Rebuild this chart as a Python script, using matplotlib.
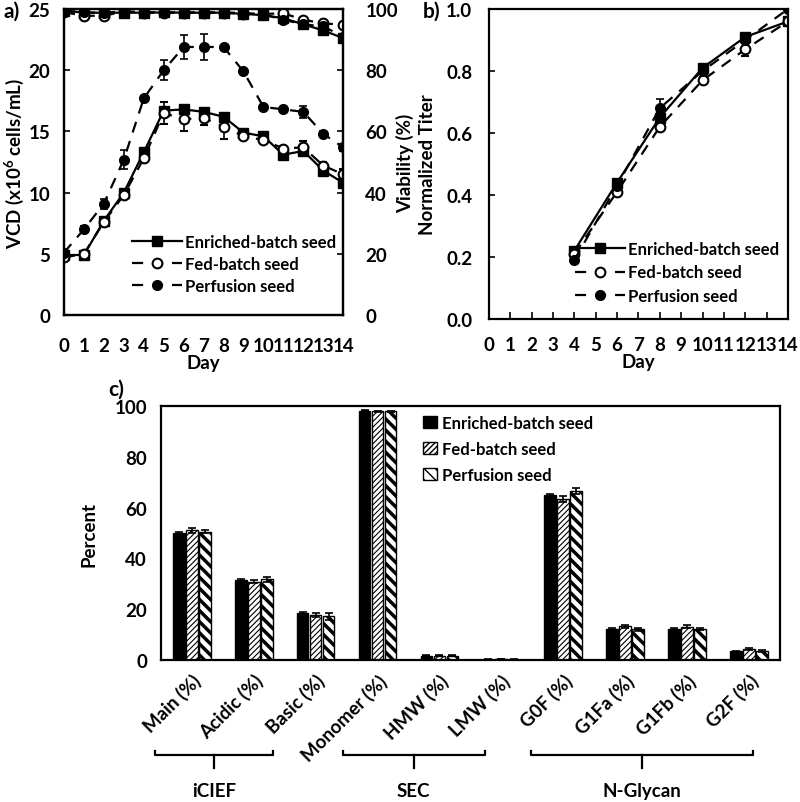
import matplotlib
matplotlib.use("Agg")
import matplotlib.pyplot as plt
import numpy as np
from matplotlib.patches import Patch
from matplotlib.lines import Line2D

plt.rcParams['font.family'] = ['Lato', 'DejaVu Sans']
plt.rcParams['font.weight'] = 'bold'
plt.rcParams['axes.labelweight'] = 'bold'
plt.rcParams['mathtext.fontset'] = 'custom'
plt.rcParams['mathtext.rm'] = 'Lato:bold'
plt.rcParams['mathtext.it'] = 'Lato:bold'
plt.rcParams['mathtext.bf'] = 'Lato:bold'

# ---------------- data ----------------
series = ["Enriched-batch seed", "Fed-batch seed", "Perfusion seed"]
days = list(range(15))

vcd_enriched = [4.9, 4.9, 7.7, 10.0, 13.3, 16.7, 16.8, 16.6, 16.2, 14.9, 14.6, 13.1, 13.4, 11.8, 10.8]
vcd_fed = [4.7, 5.0, 7.6, 9.8, 12.8, 16.5, 16.0, 16.1, 15.4, 14.6, 14.3, 13.6, 13.7, 12.2, 11.5]
vcd_perf = [5.1, 7.0, 9.1, 12.7, 17.7, 20.0, 21.9, 21.9, 21.9, 19.9, 17.0, 16.8, 16.6, 14.8, 13.7]
vcd_enriched_err = [0.1, 0.1, 0.2, 0.2, 0.2, 0.3, 0.3, 0.3, 0.3, 0.2, 0.2, 0.2, 0.2, 0.2, 0.2]
vcd_fed_err = [0.1, 0.1, 0.2, 0.2, 0.3, 0.9, 1.0, 0.6, 1.0, 0.2, 0.2, 0.2, 0.5, 0.3, 0.4]
vcd_perf_err = [0.1, 0.3, 0.4, 0.8, 0.2, 0.8, 1.0, 1.1, 0.1, 0.1, 0.1, 0.2, 0.5, 0.2, 0.3]

via_enriched = [99.5, 98.8, 98.8, 98.8, 98.8, 98.9, 98.8, 98.8, 98.8, 98.4, 98.0, 97.0, 95.0, 93.0, 90.5]
via_fed = [99.0, 97.8, 97.8, 99.2, 98.8, 98.8, 98.8, 98.8, 98.8, 98.5, 98.4, 98.6, 96.5, 95.3, 94.9]
via_perf = [99.5, 98.9, 98.8, 99.2, 99.0, 98.9, 98.9, 98.9, 98.9, 98.7, 98.2, 96.5, 95.0, 94.3, 91.0]

titer_days = [4, 6, 8, 10, 12, 14]
titer_enriched = [0.22, 0.44, 0.65, 0.81, 0.91, 0.96]
titer_fed = [0.21, 0.41, 0.62, 0.77, 0.87, 0.96]
titer_perf = [0.19, 0.43, 0.68, 0.80, 0.90, 1.00]
titer_enriched_err = [0.01, 0.01, 0.01, 0.01, 0.01, 0.01]
titer_fed_err = [0.01, 0.01, 0.01, 0.01, 0.02, 0.01]
titer_perf_err = [0.01, 0.02, 0.03, 0.01, 0.01, 0.01]

categories = ["Main (%)", "Acidic (%)", "Basic (%)", "Monomer (%)", "HMW (%)",
              "LMW (%)", "G0F (%)", "G1Fa (%)", "G1Fb (%)", "G2F (%)"]
bar_enriched = [50.0, 31.5, 18.5, 98.2, 1.6, 0.2, 65.0, 12.2, 12.3, 3.5]
bar_fed = [51.0, 30.8, 17.8, 97.9, 1.6, 0.3, 63.5, 13.3, 13.2, 4.2]
bar_perf = [50.5, 31.8, 17.2, 97.9, 1.7, 0.2, 66.5, 12.2, 12.3, 3.6]
bar_enriched_err = [0.4, 0.3, 0.6, 0.2, 0.2, 0.05, 0.3, 0.3, 0.3, 0.2]
bar_fed_err = [1.0, 0.6, 0.7, 0.2, 0.2, 0.05, 1.2, 0.6, 0.5, 0.4]
bar_perf_err = [0.6, 1.0, 1.5, 0.2, 0.2, 0.05, 1.3, 0.6, 0.5, 0.4]

groups = ["iCIEF", "SEC", "N-Glycan"]
group_spans = [(-0.6, 1.32), (2.44, 4.73), (5.48, 9.06)]

# ---------------- figure ----------------
fig = plt.figure(figsize=(8.0, 8.03), dpi=100)

TICK_FS = 13.5
LEG_FS = 12
LAB_FS = 13.5
SPINE_LW = 1.6

def style_spines(ax):
    for s in ax.spines.values():
        s.set_linewidth(SPINE_LW)

# Panel a
axa = fig.add_axes([0.08, 0.6065, 0.349, 0.381])
axv = axa.twinx()
line_kw = dict(color='black', lw=1.6, markersize=7, capsize=3, elinewidth=1.2, capthick=1.2)

axa.errorbar(days, vcd_enriched, yerr=vcd_enriched_err, marker='s', ls='-', mfc='black', mec='black', **line_kw)
axa.errorbar(days, vcd_fed, yerr=vcd_fed_err, marker='o', ls=(0, (5, 4)), mfc='white', mec='black', mew=1.5, **line_kw)
axa.errorbar(days, vcd_perf, yerr=vcd_perf_err, marker='o', ls=(0, (5, 4)), mfc='black', mec='black', **line_kw)

axv.plot(days, via_enriched, marker='s', ls='-', color='black', lw=1.6, markersize=7)
axv.plot(days, via_fed, marker='o', ls=(0, (5, 4)), color='black', mfc='white', mew=1.5, lw=1.6, markersize=7)
axv.plot(days, via_perf, marker='o', ls=(0, (5, 4)), color='black', mfc='black', lw=1.6, markersize=7)

axa.set_xlim(0, 14)
axa.set_ylim(0, 25)
axv.set_ylim(0, 100)
axa.set_xticks(days)
axa.set_xticklabels([str(d) for d in days])
axa.set_yticks([0, 5, 10, 15, 20, 25])
axv.set_yticks([0, 20, 40, 60, 80, 100])
axa.tick_params(axis='x', length=0, labelsize=TICK_FS, pad=16)
axa.tick_params(axis='y', direction='in', length=4, width=1.2, labelsize=TICK_FS, pad=10)
axv.tick_params(axis='y', direction='in', length=4, width=1.2, labelsize=TICK_FS, pad=16)
axa.set_xlabel("Day", fontsize=LAB_FS, labelpad=0)
axa.set_ylabel(r"VCD (x10$^{6}$ cells/mL)", fontsize=LAB_FS, labelpad=2)
axv.set_ylabel("Viability (%)", fontsize=LAB_FS)
axv.yaxis.set_label_coords(1.188, 0.5)
style_spines(axa)
style_spines(axv)

handles_a = [
    Line2D([], [], color='black', lw=1.6, marker='s', markersize=7, ls='-'),
    Line2D([], [], color='black', lw=1.6, marker='o', mfc='white', mew=1.5, markersize=7, ls=(0, (5, 4))),
    Line2D([], [], color='black', lw=1.6, marker='o', markersize=7, ls=(0, (5, 4))),
]
axa.legend(handles_a, series, loc='lower right', bbox_to_anchor=(1.03, 0.02), frameon=False,
           handlelength=3.0, handletextpad=0.2, labelspacing=0.35,
           prop={'weight': 'bold', 'size': LEG_FS})
fig.text(0.005, 0.985, "a)", fontsize=15, fontweight='bold', va='center', ha='left')

# Panel b
axb = fig.add_axes([0.611, 0.6015, 0.374, 0.386])
axb.errorbar(titer_days, titer_enriched, yerr=titer_enriched_err, marker='s', ls='-', mfc='black', mec='black', **line_kw)
axb.errorbar(titer_days, titer_fed, yerr=titer_fed_err, marker='o', ls=(0, (5, 4)), mfc='white', mec='black', mew=1.5, **line_kw)
axb.errorbar(titer_days, titer_perf, yerr=titer_perf_err, marker='o', ls=(0, (5, 4)), mfc='black', mec='black', **line_kw)
axb.set_xlim(0, 14)
axb.set_ylim(0, 1.0)
axb.set_xticks(days)
axb.set_xticklabels([str(d) for d in days])
axb.set_yticks([0.0, 0.2, 0.4, 0.6, 0.8, 1.0])
axb.set_yticklabels(["0.0", "0.2", "0.4", "0.6", "0.8", "1.0"])
axb.tick_params(axis='x', direction='in', length=5, width=1.2, labelsize=TICK_FS, pad=12)
axb.tick_params(axis='y', direction='in', length=4, width=1.2, labelsize=TICK_FS, pad=12)
axb.set_xlabel("Day", fontsize=LAB_FS, labelpad=0)
axb.set_ylabel("Normalized Titer", fontsize=LAB_FS)
axb.yaxis.set_label_coords(-0.175, 0.5)
style_spines(axb)
axb.legend(handles_a, series, loc='lower right', bbox_to_anchor=(1.02, 0.0), frameon=False,
           handlelength=3.0, handletextpad=0.2, labelspacing=0.45,
           prop={'weight': 'bold', 'size': LEG_FS})
fig.text(0.528, 0.985, "b)", fontsize=15, fontweight='bold', va='center', ha='left')

# Panel c
axc = fig.add_axes([0.201, 0.1768, 0.774, 0.3163])
x = np.arange(len(categories))
w = 0.19
off = 0.21
err_kw = dict(ecolor='black', elinewidth=1.2, capsize=3, capthick=1.2)
b1 = axc.bar(x - off, bar_enriched, w, yerr=bar_enriched_err, color='black', edgecolor='black', lw=1, error_kw=err_kw)
b2 = axc.bar(x, bar_fed, w, yerr=bar_fed_err, color='white', edgecolor='black', lw=1, hatch='//////', error_kw=err_kw)
b3 = axc.bar(x + off, bar_perf, w, yerr=bar_perf_err, color='white', edgecolor='black', lw=1, hatch='\\\\\\', error_kw=err_kw)
for p in b3:
    try:
        p.set_hatch_linewidth(2.5)
    except Exception:
        pass
for p in b2:
    try:
        p.set_hatch_linewidth(0.8)
    except Exception:
        pass
axc.set_xlim(-0.5, len(categories) - 0.5)
axc.set_ylim(0, 100)
axc.set_yticks([0, 20, 40, 60, 80, 100])
axc.set_xticks(x)
axc.set_xticklabels(categories, rotation=45, ha='right', rotation_mode='anchor')
axc.tick_params(axis='x', length=0, labelsize=TICK_FS, pad=8)
axc.tick_params(axis='y', length=0, labelsize=TICK_FS, pad=10)
axc.set_ylabel("Percent", fontsize=LAB_FS, labelpad=12)
style_spines(axc)

leg_handles = [
    Patch(facecolor='black', edgecolor='black'),
    Patch(facecolor='white', edgecolor='black', hatch='//////'),
    Patch(facecolor='white', edgecolor='black', hatch='\\\\\\'),
]
axc.legend(leg_handles, series, loc='upper left', bbox_to_anchor=(0.4, 1.025), frameon=False,
           handlelength=0.8, handleheight=0.8, handletextpad=0.3, labelspacing=0.6,
           prop={'weight': 'bold', 'size': LEG_FS})
fig.text(0.135, 0.515, "c)", fontsize=15, fontweight='bold', va='center', ha='left')

# group brackets
y_br = -0.374
y_tick = -0.425
y_lab = -0.515
for name, (x0, x1) in zip(groups, group_spans):
    tr = axc.get_xaxis_transform()
    xc = (x0 + x1) / 2
    axc.plot([x0, x0, x1, x1], [y_br + 0.014, y_br, y_br, y_br + 0.014], color='black', lw=1.6,
             transform=tr, clip_on=False)
    axc.plot([xc, xc], [y_br, y_tick], color='black', lw=1.6, transform=tr, clip_on=False)
    axc.text(xc, y_lab, name, transform=tr, ha='center', va='center', fontsize=LAB_FS, fontweight='bold')

fig.savefig("out.png", dpi=100)
